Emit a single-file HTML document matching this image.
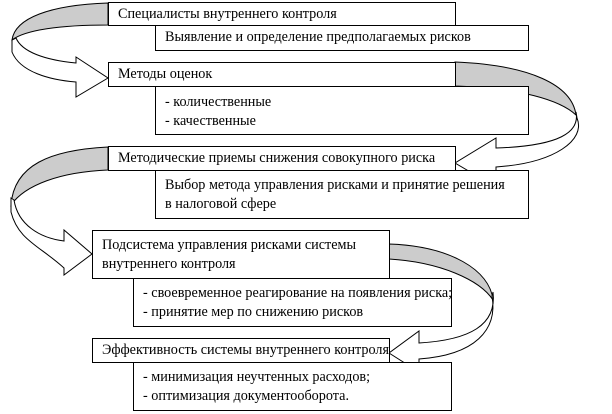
<!DOCTYPE html>
<html><head><meta charset="utf-8"><style>
body{margin:0;background:#fff;}
#c{position:relative;width:612px;height:414px;overflow:hidden;font-family:"Liberation Serif",serif;font-size:14.2px;color:#000;}
.b{position:absolute;border:1px solid #000;background:#fff;box-sizing:border-box;padding:2px 0 0 9px;line-height:19px;white-space:nowrap;overflow:hidden;}
svg{position:absolute;left:0;top:0;}
</style></head><body><div id="c">
<svg width="612" height="414">
<g stroke="#000" stroke-width="1">
<path d="M108,3 C50,5 15,18 12,40 C25,30 60,25 108,25 Z" fill="#ccc"/>
<path d="M12,40 L12,52 C20,72 50,80 76,82 L76,97 L108,78 L76,57 L76,63 C45,60 22,52 16,38 Z" fill="#fff"/>
<path d="M455,62 C530,65 572,85 576,115 C560,100 520,88 455,86 Z" fill="#ccc"/>
<path d="M576,112 C580,132 560,146 496,148 L496,138 L455,163 L496,187 L496,167 C555,163 586,140 577,118 Z" fill="#fff"/>
<path d="M108,147 C50,150 14,165 11,205 C25,185 60,172 108,170 Z" fill="#ccc"/>
<path d="M11,198 L11,212 C18,240 40,246 64,268 L64,275 L92,254 L64,230 L64,241 C40,238 18,225 14,200 Z" fill="#fff"/>
<path d="M389,244 C450,246 490,270 493,300 C480,280 440,262 389,259 Z" fill="#ccc"/>
<path d="M493,292 C497,325 470,340 419,343 L419,331 L389,353 L419,372 L419,359 C475,355 498,330 492,296 Z" fill="#fff"/>
</g></svg>
<div class="b" style="left:108px;top:2px;width:348px;height:24px;">Специалисты внутреннего контроля</div>
<div class="b" style="left:155px;top:25px;width:374px;height:26px;">Выявление и определение предполагаемых рисков</div>
<div class="b" style="left:108px;top:62px;width:348px;height:25px;">Методы оценок</div>
<div class="b" style="left:155px;top:86px;width:374px;height:49px;padding-top:6px;">- количественные<br>- качественные</div>
<div class="b" style="left:108px;top:146px;width:348px;height:25px;">Методические приемы снижения совокупного риска</div>
<div class="b" style="left:155px;top:170px;width:374px;height:49px;padding-top:5px;">Выбор метода управления рисками и принятие решения<br>в налоговой сфере</div>
<div class="b" style="left:92px;top:230px;width:298px;height:49px;padding-top:5px;">Подсистема управления рисками системы<br>внутреннего контроля</div>
<div class="b" style="left:133px;top:278px;width:319px;height:49px;padding-top:5px;">- своевременное реагирование на появления риска;<br>- принятие мер по снижению рисков</div>
<div class="b" style="left:92px;top:338px;width:298px;height:25px;">Эффективность системы внутреннего контроля</div>
<div class="b" style="left:133px;top:362px;width:319px;height:49px;padding-top:5px;">- минимизация неучтенных расходов;<br>- оптимизация документооборота.</div>
</div></body></html>
